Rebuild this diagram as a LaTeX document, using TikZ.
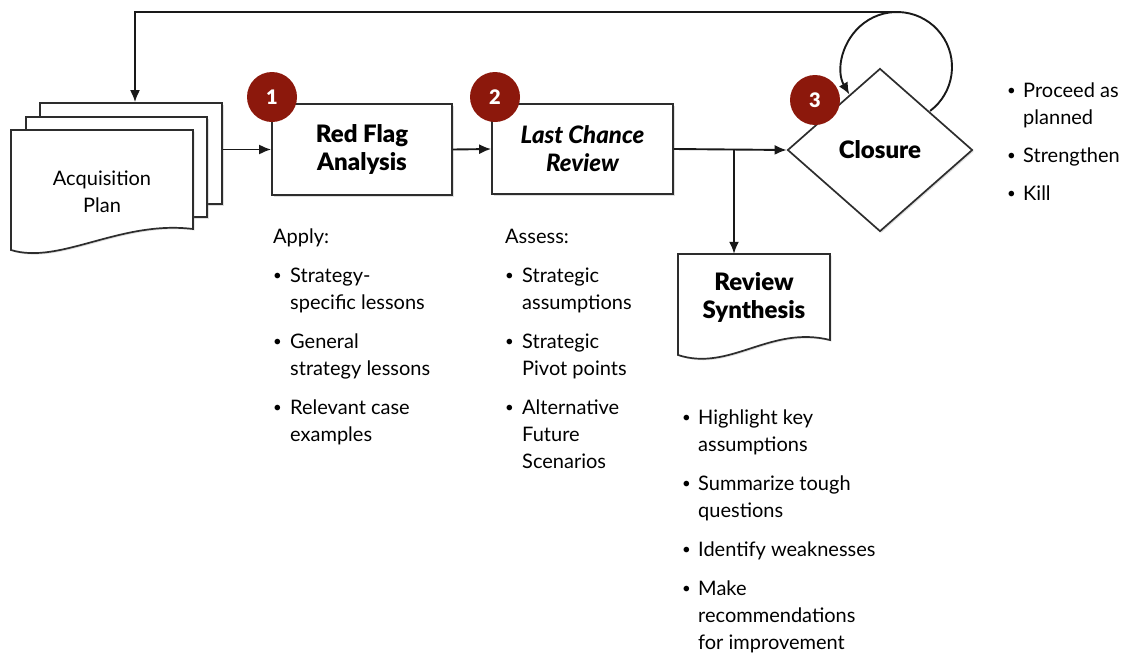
\documentclass[tikz,border=0pt]{standalone}
\usepackage{fontspec}
\setmainfont{Lato}
\newfontfamily\heavy{Lato Black}
\usetikzlibrary{arrows.meta,shapes.geometric,shadows,calc}
\definecolor{badge}{RGB}{140,24,12}
\definecolor{ink}{RGB}{45,45,45}
\newcommand\fsz[2]{\fontsize{#1}{#2}\selectfont}
\newcommand\dotb{\raisebox{1.5pt}{\fsz{15}{15}\textbullet}}

\begin{document}
\begin{tikzpicture}[x=1pt,y=1pt,>={Latex[length=12pt,width=10pt]},
  conn/.style={line width=1.9pt,black!90},
  sheet/.style={draw=ink,line width=1.7pt,fill=white,
    drop shadow={shadow xshift=1.5pt,shadow yshift=-1.5pt,opacity=.25}},
  procbox/.style={sheet,rectangle,align=center,font=\fsz{24}{28}\heavy},
  numdot/.style={circle,fill=badge,minimum size=50pt,inner sep=0pt,
    text=white,font=\fsz{20}{20}\heavy},
  lst/.style={anchor=base west,inner sep=0pt,font=\fsz{20}{27}}]
 \useasboundingbox (0,0) rectangle (1130,-656);
 % plan stack
 \node[sheet,rectangle,minimum width=182pt,minimum height=101pt] (bk) at (131,-153.5) {};
 \node[sheet,rectangle,minimum width=181pt,minimum height=100pt] (md) at (116.5,-167) {};
 \filldraw[sheet] (11,-130) -- (193,-130) -- (193,-229)
   .. controls (120,-220) and (60,-265) .. (11,-250) -- cycle;
 \node[font=\fsz{20}{27},align=center] (acq) at (102,-192) {Acquisition\\Plan};
 % steps
 \node[procbox,minimum width=180pt,minimum height=91pt] (rf) at (362,-149.5) {Red Flag\\Analysis};
 \node[procbox,minimum width=181pt,minimum height=90pt,font=\fsz{24}{28}\heavy\itshape]
   (lcr) at (582.5,-149) {Last Chance\\Review};
 \node[sheet,diamond,minimum width=185pt,minimum height=163pt,inner sep=0pt,
   font=\fsz{24}{28}\heavy] (clo) at (880,-150) {Closure};
 \filldraw[sheet] (678,-254) -- (830,-254) -- (830,-340)
   .. controls (770,-325) and (730,-372) .. (678,-355) -- cycle;
 \node[minimum width=152pt,minimum height=86pt,align=center,
   font=\fsz{24}{28}\heavy] (rs) at (754,-297) {Review\\Synthesis};
 % connectors
 \coordinate (lpc) at (897,-67);
 \coordinate (br) at (734,-150);
 \draw[conn,->] (rf.west -| bk.east) -- (rf.west);
 \draw[conn,->] (rf.east) -- (lcr.west);
 \draw[conn,->] (lcr.east) -- (clo.west);
 \draw[conn,->] (br) -- (br |- rs.north);
 \draw[conn,->] ([shift={(-53:55)}]lpc) arc[start angle=-53,end angle=210,radius=55];
 \draw[conn,->] ([shift={(90:55)}]lpc) -| ([xshift=4pt]bk.north);
 % badges
 \node[numdot] (n1) at (272,-97) {1};
 \node[numdot] (n2) at (495,-97) {2};
 \node[numdot] (n3) at (815,-100) {3};
 % lists
 \node[lst] (apl) at (273,-243) {\begin{tabular}[t]{@{}p{17pt}@{}l@{}}
   \multicolumn{2}{@{}l@{}}{Apply:}\\[12pt]
   \dotb & Strategy-\\
    & specific lessons\\[12pt]
   \dotb & General\\
    & strategy lessons\\[12pt]
   \dotb & Relevant case\\
    & examples
 \end{tabular}};
 \node[lst] (ass) at (505,-243) {\begin{tabular}[t]{@{}p{17pt}@{}l@{}}
   \multicolumn{2}{@{}l@{}}{Assess:}\\[12pt]
   \dotb & Strategic\\
    & assumptions\\[12pt]
   \dotb & Strategic\\
    & Pivot points\\[12pt]
   \dotb & Alternative\\
    & Future\\
    & Scenarios
 \end{tabular}};
 \node[lst] (rvl) at (682,-424) {\begin{tabular}[t]{@{}p{16pt}@{}l@{}}
   \dotb & Highlight key\\
    & assumptions\\[12pt]
   \dotb & Summarize tough\\
    & questions\\[12pt]
   \dotb & Identify weaknesses\\[12pt]
   \dotb & Make\\
    & recommendations\\
    & for improvement
 \end{tabular}};
 \node[lst] (out) at (1007,-97) {\begin{tabular}[t]{@{}p{16pt}@{}l@{}}
   \dotb & Proceed as\\
    & planned\\[11pt]
   \dotb & Strengthen\\[11pt]
   \dotb & Kill
 \end{tabular}};
\end{tikzpicture}
\end{document}
